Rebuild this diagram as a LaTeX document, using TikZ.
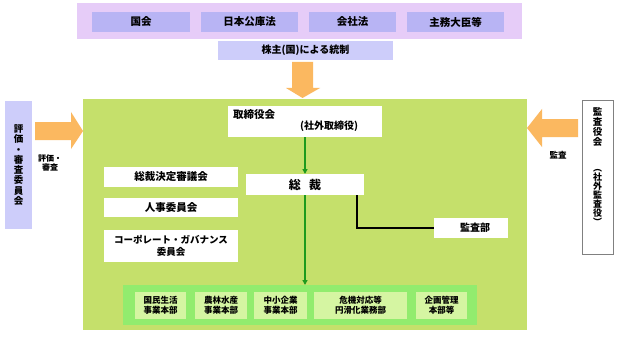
\documentclass[tikz,border=0pt]{standalone}
\usepackage{fontspec}
\setmainfont{Noto Sans CJK JP}
\usetikzlibrary{arrows.meta}
\definecolor{bandc}{HTML}{E6CCF8}
\definecolor{topbox}{HTML}{B8B4F4}
\definecolor{lilac}{HTML}{CDCDFA}
\definecolor{maingreen}{HTML}{C5E06B}
\definecolor{orangec}{HTML}{FBB860}
\definecolor{brightgreen}{HTML}{92EC6E}
\definecolor{palegreen}{HTML}{D5F5A2}
\definecolor{arrowgreen}{HTML}{1E9A1E}
\tikzset{
  box/.style={inner sep=0pt, outer sep=0pt},
  fs/.style={font=\fontsize{#1}{#1}\selectfont\bfseries},
  wbox/.style={box, fill=white},
  orng/.style={fill=orangec, draw=none},
  garrow/.style={draw=arrowgreen, line width=1.3pt, -{Triangle[length=5pt,width=5pt]}},
  bfont/.style={align=center, font=\fontsize{8.5}{10}\selectfont\bfseries},
}
\begin{document}
\begin{tikzpicture}[x=1pt,y=-1pt]
\useasboundingbox (0,0) rectangle (619,337);
\fill[white] (0,0) rectangle (619,337);
% top band
\node[box, fill=bandc, minimum width=445pt, minimum height=36pt] (band) at (299.5,21) {};
\node[box, fill=topbox, minimum width=98pt, minimum height=20pt, fs=10.5] (kokkai) at (141,22) {国会};
\node[box, fill=topbox, minimum width=97pt, minimum height=20pt, fs=10.5] (koko) at (249.5,22) {日本公庫法};
\node[box, fill=topbox, minimum width=87pt, minimum height=20pt, fs=10.5] (kaisha) at (352.5,22) {会社法};
\node[box, fill=topbox, minimum width=97pt, minimum height=20pt, fs=10.5] (shumu) at (455.5,22) {主務大臣等};
\node[box, fill=lilac, minimum width=175pt, minimum height=19pt, fs=10] (kabu) at (305.5,50.5) {株主(国)による統制};
% main green
\node[box, fill=maingreen, minimum width=444pt, minimum height=231pt] (main) at (305,214.5) {};
% orange arrows
\fill[orng] (292,62) -- (313,62) -- (313,88) -- (320,88) -- (302.5,98) -- (286,88) -- (292,88) -- cycle;
\fill[orng] (35,122) -- (71,122) -- (71,112) -- (83,131) -- (71,149) -- (71,140) -- (35,140) -- cycle;
\fill[orng] (578,119) -- (542,119) -- (542,109) -- (527,128) -- (542,147) -- (542,137) -- (578,137) -- cycle;
% side boxes
\node[box, fill=lilac, minimum width=27pt, minimum height=128pt, align=center, font=\fontsize{9.5}{10.3}\selectfont\bfseries] (hyoka) at (18.5,165) {評\\価\\・\\審\\査\\委\\員\\会};
\node[box, fill=white, draw=gray, line width=0.8pt, minimum width=31pt, minimum height=154pt] (kansayaku) at (597.5,177) {};
\node[box, align=center, font=\fontsize{9.5}{10.2}\selectfont\bfseries] (ksy1) at (597.5,127) {監\\査\\役\\会};
\node[box, align=center, font=\fontsize{9}{9}\selectfont\bfseries] (ksy2) at (597.5,197) {︵\\社\\外\\監\\査\\役\\︶};
\node[box, align=center, font=\fontsize{8}{9.5}\selectfont\bfseries] (lblhyoka) at (50,163) {評価・\\審査};
\node[box, fs=8.5] (lblkansa) at (558,155) {監査};
% inside green
\node[wbox, minimum width=154pt, minimum height=31pt] (torishimari) at (305,121.5) {};
\node[box, fs=10.5, anchor=west] (tori1) at (233,115) {取締役会};
\node[box, fs=10, anchor=west] (tori2) at (300,126) {(社外取締役)};
\node[wbox, minimum width=118pt, minimum height=21pt, fs=12] (sousai) at (305,184.5) {総\hspace{0.7em}裁};
\node[wbox, minimum width=134pt, minimum height=20pt, fs=10.5] (shingi) at (171,177) {総裁決定審議会};
\node[wbox, minimum width=134pt, minimum height=19pt, fs=10.5] (jinji) at (171,207.5) {人事委員会};
\node[wbox, minimum width=134pt, minimum height=32pt, align=center, font=\fontsize{9.5}{11.5}\selectfont\bfseries] (cg) at (171,246) {コーポレート・ガバナンス\\委員会};
\node[wbox, minimum width=74pt, minimum height=20pt, fs=10] (kansabu) at (471,228) {\hspace{8pt}監査部};
% bottom group
\node[box, fill=brightgreen, minimum width=354pt, minimum height=40pt] (bottom) at (300,305) {};
\node[box, fill=palegreen, minimum width=51pt, minimum height=27pt, bfont] (b1) at (160.5,305.5) {国民生活\\事業本部};
\node[box, fill=palegreen, minimum width=52pt, minimum height=27pt, bfont] (b2) at (221,305.5) {農林水産\\事業本部};
\node[box, fill=palegreen, minimum width=53pt, minimum height=27pt, bfont] (b3) at (280.5,305.5) {中小企業\\事業本部};
\node[box, fill=palegreen, minimum width=93pt, minimum height=27pt, bfont] (b4) at (360.5,305.5) {危機対応等\\円滑化業務部};
\node[box, fill=palegreen, minimum width=51pt, minimum height=27pt, bfont] (b5) at (441.5,305.5) {企画管理\\本部等};
% connectors
\draw[garrow] (torishimari.south) -- (sousai.north);
\draw[garrow] (sousai.south) -- (sousai.south |- bottom.north);
\coordinate (kbend) at ([xshift=52pt]sousai.south);
\draw[black, line width=1.5pt] (kbend) |- (kansabu.west);
\end{tikzpicture}
\end{document}
